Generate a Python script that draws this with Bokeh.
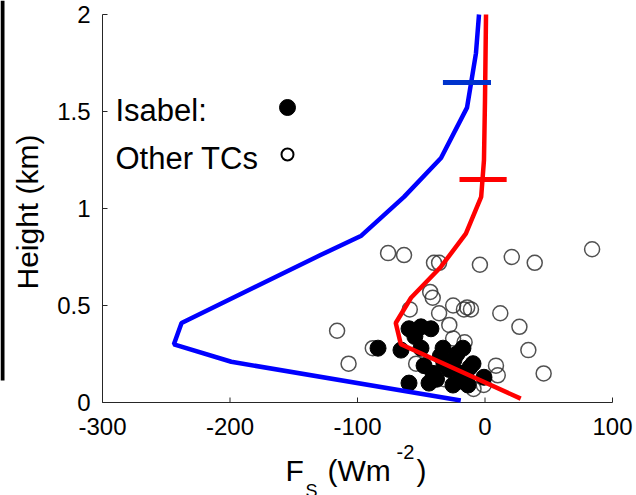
import numpy as np
from bokeh.plotting import figure
from bokeh.models import Range1d
from bokeh.core.properties import value
from bokeh.embed import file_html
from bokeh.resources import INLINE

# ---- data ----
blue_fs = [-19, -199, -244, -238, -129, -97, -63.5, -34.5, -14.1, -7.1, -4.7]
blue_z = [0.01, 0.21, 0.30, 0.41, 0.76, 0.86, 1.06, 1.26, 1.52, 1.80, 2.00]
red_fs = [28, -66, -70, -58, -34.5, -15, -3, -0.8, 0.0, 0.8]
red_z = [0.02, 0.30, 0.41, 0.54, 0.70, 0.87, 1.06, 1.25, 1.56, 2.00]

blue_bar_fs = [-33, 4.7]
blue_bar_z = 1.65
red_bar_fs = [-20, 17]
red_bar_z = 1.15

other_fs = [-76, -63.5, -40, -36, -4, 21, 39, 84, -43, -41, -59, -36, -25, -16.5,
            -11, -14, -28, 12, 27, 34, 46, -116, -107, 8.6, 10, -1, -54, -88, -25,
            -32, -9, -16, -40]
other_z = [0.77, 0.76, 0.72, 0.72, 0.71, 0.75, 0.72, 0.79, 0.57, 0.54, 0.48, 0.46,
           0.50, 0.48, 0.48, 0.49, 0.40, 0.46, 0.39, 0.27, 0.15, 0.37, 0.20, 0.19,
           0.14, 0.09, 0.20, 0.28, 0.33, 0.12, 0.07, 0.31, 0.15]

isabel_fs = [-59.6, -50.2, -42.4, -83.9, -65.9, -50.2, -32.9, -17.3, -47.8, -32.2,
             -9.4, -59.6, -43.9, -25.1, -13.3, -0.8, -40.8, -18.8, -24.3, -55,
             -35, -28, -20, -38, -22, -12]
isabel_z = [0.38, 0.39, 0.38, 0.28, 0.27, 0.28, 0.28, 0.28, 0.19, 0.20, 0.20, 0.10,
            0.10, 0.09, 0.09, 0.13, 0.15, 0.15, 0.22, 0.34, 0.24, 0.17, 0.11, 0.12,
            0.25, 0.18]

x_ticks = [-300, -200, -100, 0, 100]
x_tick_labels = ["-300", "-200", "-100", "0", "100"]
y_ticks = [0, 0.5, 1, 1.5, 2]
y_tick_labels = ["0", "0.5", "1", "1.5", "2"]
x_lim = [-300, 100]
y_lim = [0, 2]

legend_labels = ["Isabel:", "Other TCs"]
y_label = "Height (km)"

# ---- layout: pixel geometry of the axes box in the 636x495 canvas ----
W, H = 636, 495
X0PX, X1PX = 102, 612      # pixel columns of x_lim
Y0PX, Y1PX = 402, 14       # pixel rows of y_lim
sx = (x_lim[1] - x_lim[0]) / (X1PX - X0PX)
sy = (y_lim[1] - y_lim[0]) / (Y0PX - Y1PX)


def xd(px):
    return x_lim[0] + (px - X0PX) * sx


def yd(py):
    return y_lim[0] + (Y0PX - py) * sy


FONT = "Liberation Sans"
AX = "#262626"

p = figure(width=W, height=H, x_range=Range1d(xd(0), xd(W)),
           y_range=Range1d(yd(H), yd(0)), output_backend="svg",
           toolbar_location=None, x_axis_location=None, y_axis_location=None,
           title_location=None, min_border=0)
p.grid.visible = False
p.outline_line_color = None
p.background_fill_color = "white"
p.border_fill_color = "white"

# cropped-edge dark strip seen at the left of the reference
p.quad(left=[xd(0)], right=[xd(4)], bottom=[yd(380)], top=[yd(0)],
       fill_color="black", line_color=None)

# axes (drawn by hand so everything sits inside the frame)
p.segment(x0=[x_lim[0]], y0=[y_lim[0]], x1=[x_lim[1]], y1=[y_lim[0]],
          line_color=AX, line_width=1)
p.segment(x0=[x_lim[0]], y0=[y_lim[0]], x1=[x_lim[0]], y1=[y_lim[1]],
          line_color=AX, line_width=1)
TICK = 5
p.segment(x0=x_ticks, y0=[y_lim[0]] * len(x_ticks), x1=x_ticks,
          y1=[y_lim[0] + TICK * sy] * len(x_ticks), line_color=AX, line_width=1)
p.segment(x0=[x_lim[0]] * len(y_ticks), y0=y_ticks,
          x1=[x_lim[0] + TICK * sx] * len(y_ticks), y1=y_ticks,
          line_color=AX, line_width=1)

p.text(x=x_ticks, y=[yd(Y0PX + 24)] * len(x_ticks), text=x_tick_labels,
       text_font=value(FONT), text_font_size=value("24px"), text_color="black",
       text_align="center", text_baseline="middle")
p.text(x=[xd(X0PX - 12)] * len(y_ticks), y=y_ticks,
       text=y_tick_labels, text_font=value(FONT), text_font_size=value("24px"),
       text_color="black", text_align="right", text_baseline="middle")

# y axis label
p.text(x=[xd(27)], y=[yd(211.5)], text=[y_label], angle=np.pi / 2,
       text_font=value(FONT), text_font_size=value("30px"), text_color="black",
       text_align="center", text_baseline="middle")

# x axis label  F_S (Wm^-2)
xl_parts = [("F", 285, 470, "30px"), ("S", 305, 490, "18px"),
            ("(Wm", 327, 470, "30px"), ("-2", 396, 451, "20px"),
            (")", 416, 470, "30px")]
for txt, px, py, fs in xl_parts:
    p.text(x=[xd(px)], y=[yd(py)], text=[txt], text_font=value(FONT),
           text_font_size=value(fs), text_color="black", text_align="left",
           text_baseline="middle")

# scatter points
p.scatter(other_fs, other_z, size=15, fill_color=None, line_color="#333333",
          line_width=1.5, line_alpha=0.85)
p.scatter(isabel_fs, isabel_z, size=16, fill_color="black", line_color="black")

# profiles
p.line(blue_fs, blue_z, line_color="#0000ff", line_width=4.5)
p.line(red_fs, red_z, line_color="#ff0000", line_width=4.5)
p.line(blue_bar_fs, [blue_bar_z] * 2, line_color="#0033cc", line_width=5)
p.line(red_bar_fs, [red_bar_z] * 2, line_color="#ff0000", line_width=5)

# legend (text then marker)
leg_text_px = 115
leg_text_py = [110, 158]
leg_mark_px = 287
leg_mark_py = [107, 154]
p.text(x=[xd(leg_text_px)] * 2, y=[yd(v) for v in leg_text_py], text=legend_labels,
       text_font=value(FONT), text_font_size=value("31px"), text_color="black",
       text_align="left", text_baseline="middle")
p.scatter([xd(leg_mark_px)], [yd(leg_mark_py[0])], size=16, fill_color="black",
          line_color="black")
p.scatter([xd(leg_mark_px)], [yd(leg_mark_py[1])], size=12, fill_color=None,
          line_color="black", line_width=2)

open("out.html", "w").write(file_html(p, INLINE))
